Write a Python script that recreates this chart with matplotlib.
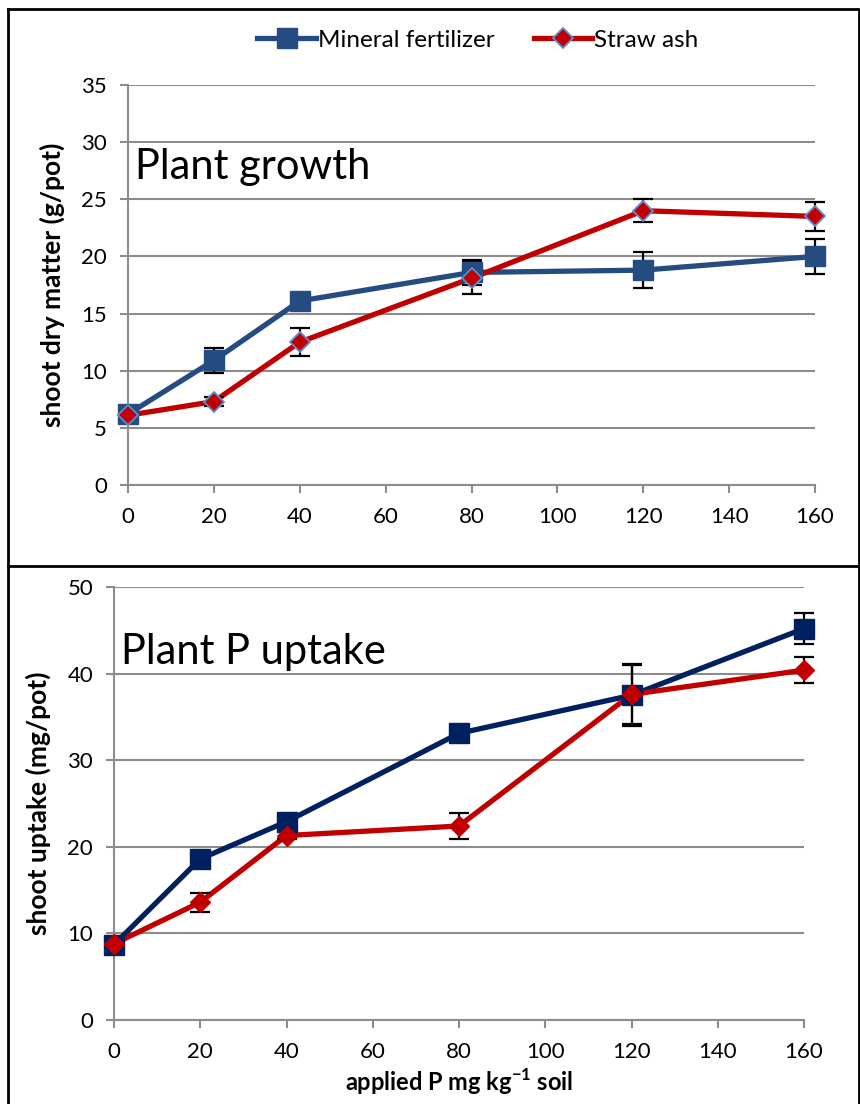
import matplotlib
matplotlib.use("Agg")
import matplotlib.pyplot as plt
from matplotlib.lines import Line2D

plt.rcParams['font.family'] = ['Lato', 'DejaVu Sans']
plt.rcParams['mathtext.fontset'] = 'custom'
plt.rcParams['mathtext.rm'] = 'Lato'
plt.rcParams['mathtext.bf'] = 'Lato:bold'

# ---- data ----
p_applied = [0, 20, 40, 80, 120, 160]
growth_mineral = [6.2, 10.9, 16.1, 18.6, 18.8, 20.0]
growth_mineral_err = [0.3, 1.1, 0.4, 1.1, 1.6, 1.5]
growth_straw = [6.1, 7.3, 12.5, 18.1, 24.0, 23.5]
growth_straw_err = [0.2, 0.4, 1.2, 1.4, 1.0, 1.3]

uptake_mineral = [8.7, 18.6, 22.9, 33.1, 37.5, 45.2]
uptake_mineral_err = [0.3, 0.5, 0.6, 0.5, 3.6, 1.8]
uptake_straw = [8.8, 13.6, 21.3, 22.4, 37.6, 40.4]
uptake_straw_err = [0.2, 1.1, 0.4, 1.5, 3.4, 1.5]

series_names = ["Mineral fertilizer", "Straw ash"]
x_ticks = [0, 20, 40, 60, 80, 100, 120, 140, 160]
growth_yticks = [0, 5, 10, 15, 20, 25, 30, 35]
uptake_yticks = [0, 10, 20, 30, 40, 50]

BLUE_TOP = "#244c80"
BLUE_BOT = "#002060"
RED = "#c00000"
GRID = "#8c8c8c"

W, H = 860, 1104
fig = plt.figure(figsize=(W / 100, H / 100), dpi=100)

def px_axes(l, r, t, b):
    return fig.add_axes([l / W, 1 - b / H, (r - l) / W, (b - t) / H])

ax1 = px_axes(128, 815, 85, 485)
ax2 = px_axes(114, 804, 587, 1020)


def style(ax, yticks, ymax):
    ax.set_xlim(0, 160)
    ax.set_ylim(0, ymax)
    ax.set_xticks(x_ticks)
    ax.set_yticks(yticks)
    for s in ("top", "right"):
        ax.spines[s].set_visible(False)
    for s in ("left", "bottom"):
        ax.spines[s].set_color(GRID)
        ax.spines[s].set_linewidth(1.5)
    ax.yaxis.grid(True, color=GRID, linewidth=1.5)
    ax.set_axisbelow(True)
    ax.tick_params(axis="both", colors=GRID, labelcolor="black",
                   labelsize=16, width=1.5, length=6, direction="out")
    ax.tick_params(axis="x", pad=10)
    ax.tick_params(axis="y", pad=9)


def plot_series(ax, y, err, color, marker, ms, mec, mew):
    ax.plot(p_applied, y, color=color, lw=3.8, zorder=3, clip_on=False,
            solid_capstyle="butt")
    ax.errorbar(p_applied, y, yerr=err, fmt="none", ecolor="black",
                elinewidth=1.6, capsize=7, capthick=1.6, zorder=4, clip_on=False)
    ax.plot(p_applied, y, linestyle="none", marker=marker, ms=ms,
            mfc=color, mec=mec, mew=mew, zorder=5, clip_on=False)


style(ax1, growth_yticks, 35)
plot_series(ax1, growth_mineral, growth_mineral_err, BLUE_TOP, "s", 14, BLUE_TOP, 1)
plot_series(ax1, growth_straw, growth_straw_err, RED, "D", 10, "#5b8fd0", 1.3)
ax1.set_ylabel("shoot dry matter (g/pot)", fontsize=19, fontweight="bold", labelpad=12)
ax1.text(0.01, 0.795, "Plant growth", transform=ax1.transAxes, fontsize=30,
         va="center", ha="left")

style(ax2, uptake_yticks, 50)
plot_series(ax2, uptake_mineral, uptake_mineral_err, BLUE_BOT, "s", 14, BLUE_BOT, 1)
plot_series(ax2, uptake_straw, uptake_straw_err, RED, "D", 10, RED, 1)
ax2.set_ylabel("shoot uptake (mg/pot)", fontsize=19, fontweight="bold", labelpad=12)
ax2.set_xlabel("applied P mg kg$^{\\mathbf{-1}}$ soil", fontsize=17,
               fontweight="bold", labelpad=3)
ax2.text(0.01, 0.85, "Plant P uptake", transform=ax2.transAxes, fontsize=30,
         va="center", ha="left")

# legend
handles = [
    Line2D([], [], color=BLUE_TOP, lw=3.8, marker="s", ms=14, mfc=BLUE_TOP, mec=BLUE_TOP),
    Line2D([], [], color=RED, lw=3.8, marker="D", ms=10, mfc=RED, mec="#5b8fd0", mew=1.3),
]
fig.legend(handles, series_names, loc="center", bbox_to_anchor=(478 / W, 1 - 40 / H),
           ncol=2, frameon=False, fontsize=17.5, handlelength=2.4,
           handletextpad=0.1, columnspacing=1.6)

# panel borders
def fline(xs, ys):
    fig.add_artist(Line2D([x / W for x in xs], [1 - y / H for y in ys],
                          color="black", lw=2, transform=fig.transFigure))

fline([8, 859, 859, 8, 8], [9, 9, 566, 566, 9])
fline([8, 8], [566, 1104])
fline([859, 859], [566, 1104])

fig.savefig("out.png", dpi=100)
